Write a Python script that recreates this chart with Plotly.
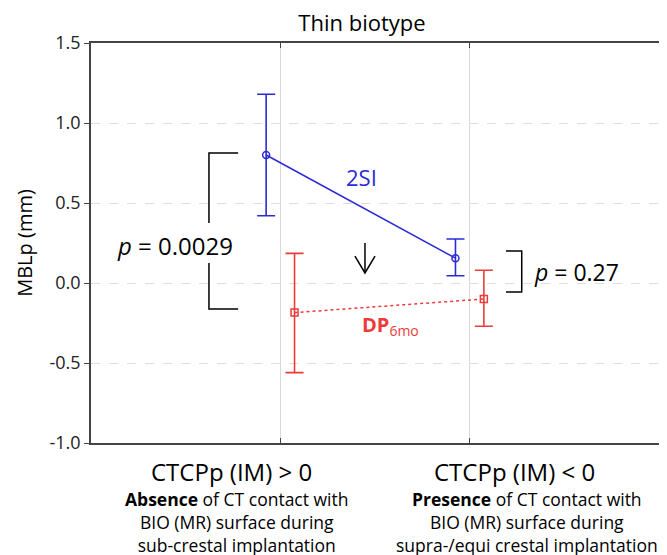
import plotly.graph_objects as go

# ---- data ----
categories = ["CTCPp (IM) > 0", "CTCPp (IM) < 0"]
descriptions = [
    "<b>Absence</b> of CT contact with<br>BIO (MR) surface during<br>sub-crestal implantation",
    "<b>Presence</b> of CT contact with<br>BIO (MR) surface during<br>supra-/equi crestal implantation",
]
si_mean = [0.80, 0.155]
si_upper = [1.18, 0.275]
si_lower = [0.42, 0.045]
dp_mean = [-0.185, -0.10]
dp_upper = [0.185, 0.08]
dp_lower = [-0.56, -0.27]
p_values = ["0.0029", "0.27"]
y_ticks = [-1.0, -0.5, 0.0, 0.5, 1.0, 1.5]

FONT = "Open Sans"
BLUE = "#2b2bd6"
RED = "#ec3b3b"

# page body has an 8px margin: the figure is drawn 8px in from the top-left
SHIFT = 8
W, H = 667 - SHIFT, 555 - SHIFT

cat_pos = [i + 1 for i in range(len(categories))]
off = 0.075

fig = go.Figure()
fig.add_trace(go.Scatter(
    x=[p - off for p in cat_pos], y=si_mean, mode="lines+markers",
    line=dict(color=BLUE, width=1.5),
    marker=dict(symbol="circle-open", size=7, color=BLUE, line=dict(width=1.5)),
    error_y=dict(type="data", symmetric=False,
                 array=[u - m for u, m in zip(si_upper, si_mean)],
                 arrayminus=[m - l for m, l in zip(si_mean, si_lower)],
                 color=BLUE, thickness=1.6, width=9),
    showlegend=False,
))
fig.add_trace(go.Scatter(
    x=[p + off for p in cat_pos], y=dp_mean, mode="lines+markers",
    line=dict(color=RED, width=1.5, dash="3px,3px"),
    marker=dict(symbol="square-open", size=7, color=RED, line=dict(width=1.5)),
    error_y=dict(type="data", symmetric=False,
                 array=[u - m for u, m in zip(dp_upper, dp_mean)],
                 arrayminus=[m - l for m, l in zip(dp_mean, dp_lower)],
                 color=RED, thickness=1.6, width=9),
    showlegend=False,
))

# brackets
bl = dict(color="black", width=1.5)
fig.add_shape(type="path", path="M 0.777 0.8125 L 0.623 0.8125 L 0.623 0.375", line=bl)
fig.add_shape(type="path", path="M 0.623 0.125 L 0.623 -0.1625 L 0.777 -0.1625", line=bl)
fig.add_shape(type="path", path="M 2.192 0.2 L 2.275 0.2 L 2.275 -0.056 L 2.192 -0.056", line=bl)
# downward arrow
fig.add_shape(type="path", path="M 1.447 0.25 L 1.447 0.0625", line=dict(color="black", width=1.5))
fig.add_shape(type="path", path="M 1.394 0.168 L 1.447 0.0625 L 1.500 0.168", line=dict(color="black", width=1.5))

fig.add_annotation(x=0.444, y=0.235, text=f"<i>p</i> = {p_values[0]}", showarrow=False,
                   font=dict(family=FONT, size=24, color="black"))
fig.add_annotation(x=2.33, y=0.07, text=f"<i>p</i> = {p_values[1]}", showarrow=False,
                   xanchor="left", font=dict(family=FONT, size=23, color="black"))
fig.add_annotation(x=1.43, y=0.665, text="2SI", showarrow=False,
                   font=dict(family=FONT, size=22, color=BLUE))
fig.add_annotation(x=1.58, y=-0.265, text="<b>DP</b><sub>6mo</sub>", showarrow=False,
                   font=dict(family=FONT, size=20, color=RED))

label_x = [0.2465, 0.745]
desc_x = [0.257, 0.768]
for lx, dx, c, d in zip(label_x, desc_x, categories, descriptions):
    fig.add_annotation(x=lx, y=-0.07, xref="paper", yref="paper",
                       xanchor="center", yanchor="middle",
                       text=c, showarrow=False,
                       font=dict(family=FONT, size=24, color="black"))
    fig.add_annotation(x=dx, y=-0.105, xref="paper", yref="paper",
                       xanchor="center", yanchor="top",
                       text=d, showarrow=False, align="center",
                       font=dict(family=FONT, size=17.5, color="black"))

fig.update_layout(
    width=W, height=H,
    margin=dict(l=91 - SHIFT, r=667 - 659, t=43 - SHIFT, b=555 - 443),
    paper_bgcolor="white", plot_bgcolor="white",
    title=dict(text="Thin biotype", x=(362 - SHIFT) / W, xanchor="center",
               y=1 - (23 - SHIFT) / H, yanchor="middle",
               font=dict(family=FONT, size=22, color="black")),
    font=dict(family=FONT, color="#222"),
)
fig.update_xaxes(range=[0, 3], tickvals=cat_pos, ticktext=["", ""],
                 showgrid=True, gridcolor="#d8d8d8", gridwidth=1.2,
                 showline=True, linecolor="#444", linewidth=1.5, mirror="ticks",
                 ticks="inside", ticklen=5, tickcolor="#444", zeroline=False,
                 automargin=False)
fig.update_yaxes(range=[-1.0, 1.5], tickvals=y_ticks,
                 ticktext=[f"{v:.1f}" for v in y_ticks],
                 tickfont=dict(family=FONT, size=18, color="#222"),
                 title=dict(text="MBLp (mm)", font=dict(family=FONT, size=20, color="black"), standoff=12),
                 showgrid=True, gridcolor="#dddddd", griddash="dash", gridwidth=1,
                 showline=True, linecolor="#444", linewidth=1.5, mirror=True,
                 ticks="outside", ticklen=5, tickcolor="#444", zeroline=False,
                 automargin=False)

fig.write_html("out.html")
